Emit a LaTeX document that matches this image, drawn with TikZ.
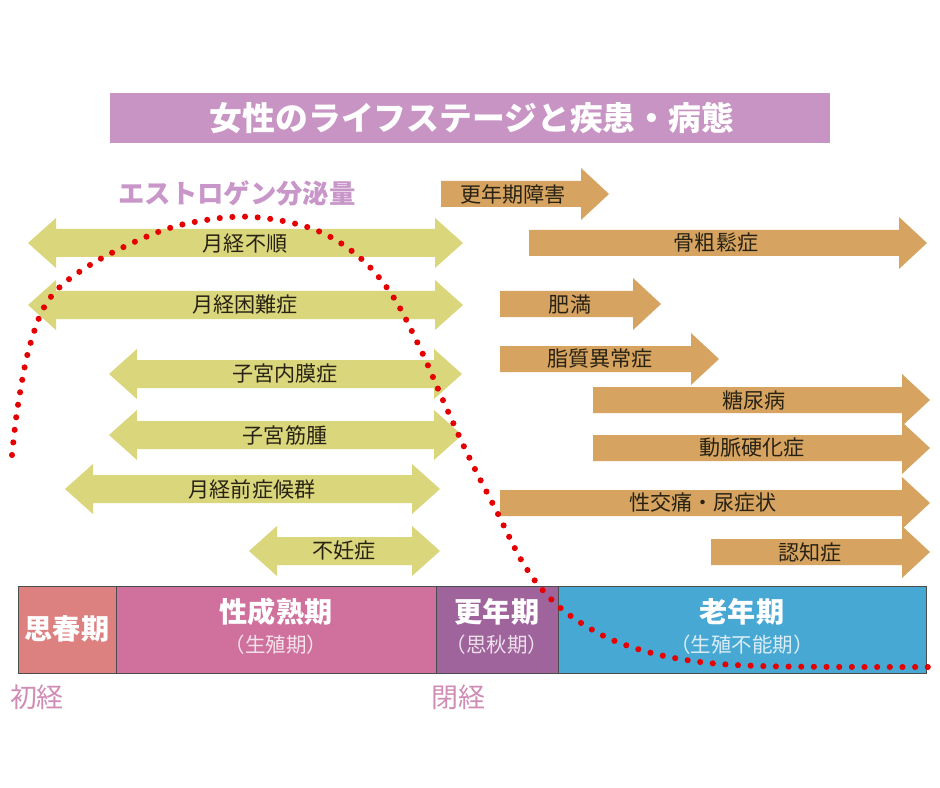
\documentclass[tikz,border=0pt]{standalone}
\usepackage{fontspec}
\setmainfont{Noto Sans CJK JP}
\usepackage{xcolor}
\usepackage{tikz}
\usetikzlibrary{calc}
\definecolor{titlepurple}{RGB}{200,148,196}
\definecolor{estrogenpink}{RGB}{200,150,200}
\definecolor{arrowyellow}{RGB}{218,214,124}
\definecolor{arroworange}{RGB}{214,164,96}
\definecolor{textbrown}{RGB}{40,34,20}
\definecolor{puberty}{RGB}{220,128,128}
\definecolor{maturity}{RGB}{207,113,156}
\definecolor{climacteric}{RGB}{160,100,156}
\definecolor{senile}{RGB}{72,168,212}
\definecolor{eventpink}{RGB}{208,140,180}
\definecolor{dotred}{RGB}{228,0,0}
\tikzset{
  double arrow path/.style={to path={-- ++(28,-25) -- ++(0,11) -- ($(\tikztotarget)+(-28,-14)$) -- ++(0,-11) -- (\tikztotarget) -- ++(-28,25) -- ++(0,-11) -- ($(\tikztostart)+(28,14)$) -- ++(0,11) -- cycle}},
  single arrow path/.style={to path={-- ++(0,-13) -- ($(\tikztotarget)+(-28,-13)$) -- ++(0,-13) -- (\tikztotarget) -- ++(-28,26) -- ++(0,-13) -- ($(\tikztostart)+(0,13)$) -- cycle}}
}
\tikzstyle{yellow arrow}=[fill=arrowyellow, double arrow path]
\tikzstyle{orange arrow}=[fill=arroworange, single arrow path]
\tikzstyle{arrow text}=[text=textbrown, inner sep=0pt, font=\fontsize{18}{20}\selectfont]
\tikzstyle{stage box}=[draw=black!70, line width=0.6pt]
\tikzstyle{stage text}=[text=white, inner sep=0pt, font=\bfseries\fontsize{24}{26}\selectfont]
\tikzstyle{stage sub}=[text=white, text opacity=0.8, inner sep=0pt, font=\fontsize{17.5}{19}\selectfont]
\tikzstyle{event text}=[text=eventpink, inner sep=0pt, font=\fontsize{23}{25}\selectfont]
\tikzstyle{dotted curve}=[draw=dotred, line width=5.2pt, line cap=round, dash pattern=on 0pt off 10.8pt]
\pgfdeclarelayer{shapelayer}
\pgfdeclarelayer{nodelayer}
\pgfdeclarelayer{curvelayer}
\pgfsetlayers{shapelayer,nodelayer,curvelayer,main}
\begin{document}
\begin{tikzpicture}[x=0.03cm, y=-0.03cm]
        	\useasboundingbox (0,0) rectangle (940,788);
        	\begin{pgfonlayer}{shapelayer}
        		\fill [white] (0,0) rectangle (940,788);
        		\fill [titlepurple] (110,93) rectangle (830,143);
        		% yellow: both ways
        		\fill [style=yellow arrow] (28,243) to (463,243);
        		\fill [style=yellow arrow] (28,305) to (463,305);
        		\fill [style=yellow arrow] (109,374) to (462,374);
        		\fill [style=yellow arrow] (109,435) to (462,435);
        		\fill [style=yellow arrow] (65,489) to (440,489);
        		\fill [style=yellow arrow] (249,551) to (440,551);
        		% orange: onward
        		\fill [style=orange arrow] (441,194) to (609,194);
        		\fill [style=orange arrow] (529,243) to (927,243);
        		\fill [style=orange arrow] (500,304) to (661,304);
        		\fill [style=orange arrow] (500,359) to (719,359);
        		\fill [style=orange arrow] (593,400) to (930,400);
        		\fill [style=orange arrow] (593,448) to (930,448);
        		\fill [style=orange arrow] (500,503) to (930,503);
        		\fill [style=orange arrow] (711,552) to (930,552);
        		% stages
        		\draw [style=stage box, fill=puberty] (18,586) rectangle (116,673);
        		\draw [style=stage box, fill=maturity] (116,586) rectangle (436,673);
        		\draw [style=stage box, fill=climacteric] (436,586) rectangle (558,673);
        		\draw [style=stage box, fill=senile] (558,586) rectangle (926,673);
        	\end{pgfonlayer}
        	\begin{pgfonlayer}{nodelayer}
        		\node [text=white, font=\bfseries\fontsize{28}{30}\selectfont] (0) at (472,118) {女性のライフステージと疾患・病態};
        		\node [text=estrogenpink, font=\bfseries\fontsize{22.5}{24}\selectfont] (1) at (237,193) {エストロゲン分泌量};
        		\node [style=arrow text] (2) at (245,244) {月経不順};
        		\node [style=arrow text] (3) at (245,305) {月経困難症};
        		\node [style=arrow text] (4) at (285,374) {子宮内膜症};
        		\node [style=arrow text] (5) at (285,435) {子宮筋腫};
        		\node [style=arrow text] (6) at (252,489) {月経前症候群};
        		\node [style=arrow text] (7) at (344,551) {不妊症};
        		\node [style=arrow text] (8) at (513,194) {更年期障害};
        		\node [style=arrow text] (9) at (716,243) {骨粗鬆症};
        		\node [style=arrow text] (10) at (570,304) {肥満};
        		\node [style=arrow text] (11) at (600,359) {脂質異常症};
        		\node [style=arrow text] (12) at (754,400) {糖尿病};
        		\node [style=arrow text] (13) at (752,448) {動脈硬化症};
        		\node [style=arrow text] (14) at (703,503) {性交痛・尿症状};
        		\node [style=arrow text] (15) at (810,552) {認知症};
        		\node [style=stage text] (16) at (67,629) {思春期};
        		\node [style=stage text] (17) at (276,612) {性成熟期};
        		\node [style=stage sub] (18) at (276,645) {（生殖期）};
        		\node [style=stage text] (19) at (497,612) {更年期};
        		\node [style=stage sub] (20) at (497,645) {（思秋期）};
        		\node [style=stage text] (21) at (742,612) {老年期};
        		\node [style=stage sub] (22) at (742,645) {（生殖不能期）};
        		\node [style=event text] (23) at (37,697) {初経};
        		\node [style=event text] (24) at (458,697) {閉経};
        	\end{pgfonlayer}
        	\begin{pgfonlayer}{curvelayer}
        		\draw [style=dotted curve] plot [smooth, tension=0.6] coordinates {(12,455) (18,405) (30,345) (50,298) (90,265) (153,234) (200,221) (253,217) (313,229) (358,256) (392,295) (420,348) (442,398) (468,455) (497,512) (523,563) (548,596) (578,621) (620,643) (680,659) (760,666) (930,667)};
        	\end{pgfonlayer}
\end{tikzpicture}
\end{document}
